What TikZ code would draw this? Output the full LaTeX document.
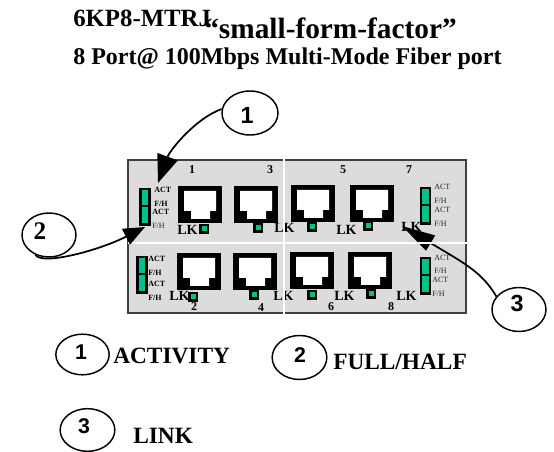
\documentclass[tikz,border=0pt]{standalone}
\usepackage{fontspec}
\setmainfont{Liberation Serif}
\newfontfamily\digitfont{Liberation Sans}
\usetikzlibrary{arrows.meta,shapes.geometric}
\definecolor{ledgreen}{HTML}{00C08C}
\definecolor{panelgray}{HTML}{DCDCDC}
\definecolor{paneledge}{HTML}{404040}
\newcommand{\fs}[1]{\fontsize{#1}{#1}\selectfont}
\tikzset{
  x=0.75pt,y=-0.75pt,
  txt/.style={anchor=base west,inner sep=0pt,text=black},
  title/.style={txt,font=\fs{18}\bfseries},
  legendtext/.style={txt,font=\fs{17.5}\bfseries},
  lk/.style={txt,font=\fs{10.5}\bfseries},
  portnum/.style={anchor=center,inner sep=0pt,font=\fs{9}\bfseries},
  tinyb/.style={anchor=west,inner sep=0pt,font=\fs{6}\bfseries},
  tinyr/.style={anchor=west,inner sep=0pt,font=\fs{6},text=black!85},
  callout/.style={draw=black,ellipse,line width=1.1pt,inner sep=0pt,fill=none},
  digit/.style={anchor=center,inner sep=0pt,font=\fs{17.5}\digitfont\bfseries},
  smalldigit/.style={anchor=center,inner sep=0pt,font=\fs{16}\digitfont\bfseries},
  pointer/.style={draw=black,line width=1.3pt},
}
\newcommand{\jack}[2]{%
  \fill[black] (#1,#2) rectangle ++(44,37);
  \fill[white] (#1+6,#2+5) -- (#1+38,#2+5) -- (#1+38,#2+25) -- (#1+32,#2+25)
    -- (#1+32,#2+33) -- (#1+13,#2+33) -- (#1+13,#2+25) -- (#1+6,#2+25) -- cycle;
}
\newcommand{\sled}[2]{%
  \fill[black] (#1-5,#2-5) rectangle ++(10,10);
  \fill[ledgreen] (#1-2.5,#2-2.5) rectangle ++(5,5);
}
\newcommand{\cled}[2]{%
  \fill[black] (#1,#2) rectangle ++(11.5,38);
  \fill[ledgreen] (#1+2.5,#2+2.5) rectangle ++(6.5,14.5);
  \fill[ledgreen] (#1+2.5,#2+19) rectangle ++(6.5,16.5);
}
\begin{document}
\begin{tikzpicture}
\useasboundingbox (0,0) rectangle (554,452);
% title
\node[txt,font=\fs{18.6}\bfseries] (t1) at (73,27) {6KP8-MTRJ};
\node[txt,font=\fs{22}\bfseries] (t2) at (204,39) {“small-form-factor”};
\node[title] (t3) at (73,65) {8 Port@ 100Mbps Multi-Mode Fiber port};
% panel
\draw[fill=panelgray,draw=paneledge,line width=1.5pt] (128,160) rectangle (466,313);
% jacks
\jack{178}{186}\jack{234}{186}\jack{291}{185}\jack{350}{185}
\jack{177}{253}\jack{233}{253}\jack{290}{252}\jack{348}{252}
% small LEDs
\sled{204}{229}\sled{258}{228}\sled{312}{227}\sled{368}{226}
\sled{193}{297}\sled{254}{295}\sled{312}{295}\sled{371}{294}
% column LEDs
\cled{139}{188}\cled{136}{256}\cled{419.5}{187}\cled{419.5}{257}
% port numbers
\node[portnum] (n1) at (192,170) {1};
\node[portnum] (n3) at (270,170) {3};
\node[portnum] (n5) at (343,170) {5};
\node[portnum] (n7) at (409,170) {7};
\node[portnum] (n2) at (194,307) {2};
\node[portnum] (n4) at (261,308) {4};
\node[portnum] (n6) at (331,307) {6};
\node[portnum] (n8) at (391,307) {8};
% LK
\node[lk] (lka) at (177,235) {LK};
\node[lk] (lkb) at (274,233) {LK};
\node[lk] (lkc) at (336,235) {LK};
\node[lk] (lkd) at (401,232) {LK};
\node[lk] (lke) at (169,301) {LK};
\node[lk] (lkf) at (273,301) {LK};
\node[lk] (lkg) at (334,301) {LK};
\node[lk] (lkh) at (396,301) {LK};
% activity labels
\node[tinyb] (a1) at (154,190) {ACT};
\node[tinyb] (a2) at (154,204) {F/H};
\node[tinyb] (a3) at (152,212) {ACT};
\node[tinyr] (a4) at (152,226) {F/H};
\node[tinyb] (b1) at (148,259) {ACT};
\node[tinyb] (b2) at (148,273) {F/H};
\node[tinyb] (b3) at (148,284) {ACT};
\node[tinyb] (b4) at (148,298) {F/H};
\node[tinyr] (c1) at (434,187) {ACT};
\node[tinyr] (c2) at (434,201) {F/H};
\node[tinyr] (c3) at (434,210) {ACT};
\node[tinyr] (c4) at (434,224) {F/H};
\node[tinyr] (d1) at (434,258) {ACT};
\node[tinyr] (d2) at (434,271) {F/H};
\node[tinyr] (d3) at (432,280) {ACT};
\node[tinyr] (d4) at (432,294) {F/H};
% callouts
\node[callout,minimum width=42pt,minimum height=33pt] (k1) at (250,113) {};
\node[callout,minimum width=40.5pt,minimum height=33pt] (k2) at (49,235) {};
\node[callout,minimum width=40.5pt,minimum height=33pt] (k3) at (519,309.5) {};
\node[digit] (g1) at (247,115) {1};
\node[font=\fs{19}\bfseries,inner sep=0pt] (g2) at (40,231) {2};
\node[digit] (g3) at (517,303) {3};
\coordinate (tip1) at (158,183);
\coordinate (tip2) at (145,227);
\coordinate (tip3) at (402,226);
% arrow 3 lies beneath the white divider
\draw[pointer,-{Triangle[length=25pt,width=13pt]}] (k3.150) .. controls (482,272) and (464,263) .. (tip3);
% white dividers
\draw[white,line width=1.5pt] (128,243) -- (467,243);
\draw[white,line width=1.5pt] (284,159) -- (284,314);
% arrows 1, 2
\draw[pointer,-{Triangle[length=21pt,width=16pt]}] (k1.172) .. controls (196,118) and (170,150) .. (tip1);
\draw[pointer,-{Triangle[length=16pt,width=13pt]}] (k2.235) .. controls (42,266) and (100,250) .. (tip2);
% legend
\node[callout,minimum width=40pt,minimum height=30.5pt] (m1) at (82.5,354.5) {};
\node[callout,minimum width=41pt,minimum height=33pt] (m2) at (299.5,357.5) {};
\node[callout,minimum width=41pt,minimum height=32pt] (m3) at (87.5,430) {};
\node[smalldigit] (h1) at (81,352) {1};
\node[smalldigit] (h2) at (300,355) {2};
\node[smalldigit] (h3) at (84,426) {3};
\node[legendtext] (l1) at (113,364) {ACTIVITY};
\node[legendtext] (l2) at (333,370) {FULL/HALF};
\node[legendtext] (l3) at (133,444) {LINK};
\end{tikzpicture}
\end{document}
